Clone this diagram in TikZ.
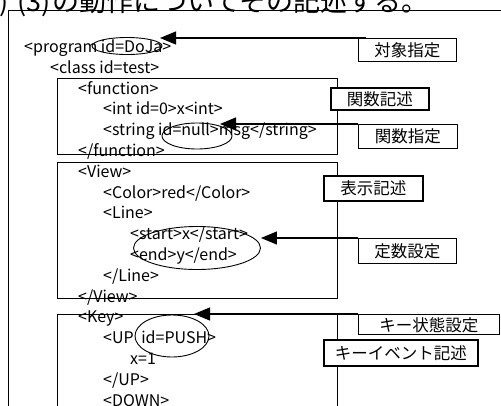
\documentclass[tikz,border=0pt]{standalone}
\usepackage{fontspec}
\setmainfont{Noto Sans CJK JP}
\usetikzlibrary{shapes.geometric,arrows.meta}
\tikzset{
  code/.style={anchor=base west, inner sep=0pt, font=\fontsize{16}{18}\selectfont},
  cbox/.style={draw, line width=0.9pt, anchor=north west, inner sep=0pt, minimum width=280pt},
  lab/.style={draw, fill=white, line width=0.9pt, anchor=north west, inner sep=0pt, font=\fontsize{16.5}{18}\selectfont},
  labthick/.style={lab, line width=1.7pt},
  oval/.style={draw, ellipse, line width=0.9pt, inner sep=0pt},
  arr/.style={line width=1.2pt, -{Triangle[length=16pt,width=13pt]}},
  head/.style={inner sep=0pt, font=\fontsize{27}{29}\selectfont},
}
\begin{document}
\begin{tikzpicture}[x=1pt,y=-1pt]
\useasboundingbox (0,0) rectangle (501,405);
\clip (0,0) rectangle (501,405);
% heading (only its lower part shows)
\node[head, anchor=base east] (title1) at (9,11) {1)};
\node[head, anchor=base west] (title2) at (17,11) {(3)};
\node[head, anchor=base west] (title3) at (52,11) {の動作についてその記述する。};
% outer frame
\node[draw, line width=1pt, anchor=north west, inner sep=0pt, minimum width=520pt, minimum height=420pt] (outer) at (8,10) {};
% code blocks
\node[cbox, minimum height=76pt] (fbox) at (57,78) {};
\node[cbox, minimum height=136pt] (vbox) at (57,162) {};
\node[cbox, minimum height=110pt] (kbox) at (57,314) {};
% code lines
\node[code] (l0) at (24,52.5) {<program id=DoJa>};
\node[code] (l1) at (50,73.3) {<class id=test>};
\node[code] (l2) at (78,94.1) {<function>};
\node[code] (l3) at (103,114.9) {<int id=0>x<int>};
\node[code] (l4) at (103,135.7) {<string id=null>msg</string>};
\node[code] (l5) at (78,156.5) {</function>};
\node[code] (l6) at (78,177.3) {<View>};
\node[code] (l7) at (103,198.1) {<Color>red</Color>};
\node[code] (l8) at (103,218.9) {<Line>};
\node[code] (l9) at (130,239.7) {<start>x</start>};
\node[code] (l10) at (130,260.5) {<end>y</end>};
\node[code] (l11) at (103,281.3) {</Line>};
\node[code] (l12) at (78,302.1) {</View>};
\node[code] (l13) at (78,322.9) {<Key>};
\node[code] (l14) at (103,343.7) {<UP\hspace{4pt} id=PUSH>};
\node[code] (l15) at (130,364.5) {x=1};
\node[code] (l16) at (103,385.3) {</UP>};
\node[code] (l17) at (103,406.1) {<DOWN>};
% ellipses
\node[oval, minimum width=70pt, minimum height=17pt] (e1) at (127,46) {};
\node[oval, minimum width=70pt, minimum height=26pt] (e2) at (197,136) {};
\node[oval, minimum width=127pt, minimum height=43pt] (e3) at (197,248) {};
\node[oval, minimum width=74pt, minimum height=42pt] (e4) at (172,336) {};
% labels
\node[lab, minimum width=98pt, minimum height=23pt] (lab1) at (358,38) {対象指定};
\node[labthick, minimum width=98pt, minimum height=22pt] (lab2) at (330,87) {関数記述};
\node[lab, minimum width=99pt, minimum height=24pt] (lab3) at (358,124) {関数指定};
\node[labthick, minimum width=99pt, minimum height=25pt] (lab4) at (323,175) {表示記述};
\node[lab, minimum width=98pt, minimum height=25pt] (lab5) at (358,238) {定数設定};
\node[lab, minimum width=141pt, minimum height=20pt, text depth=0pt, yshift=-2pt] (lab6) at (358,312) {キー状態設定};
\node[labthick, minimum width=154pt, minimum height=26pt] (lab7) at (323,339) {キーイベント記述};
% arrows
\coordinate (t1) at (160,38);
\coordinate (t2) at (220,124);
\coordinate (t4) at (194,314);
\draw[arr] ([xshift=8pt]lab1.north west) -- (t1);
\draw[arr] (lab3.north west) -- (t2);
\draw[arr] (lab5.north west) -- (lab5.north west -| e3.east);
\draw[arr] (lab6.north west) -- (t4);
\end{tikzpicture}
\end{document}
